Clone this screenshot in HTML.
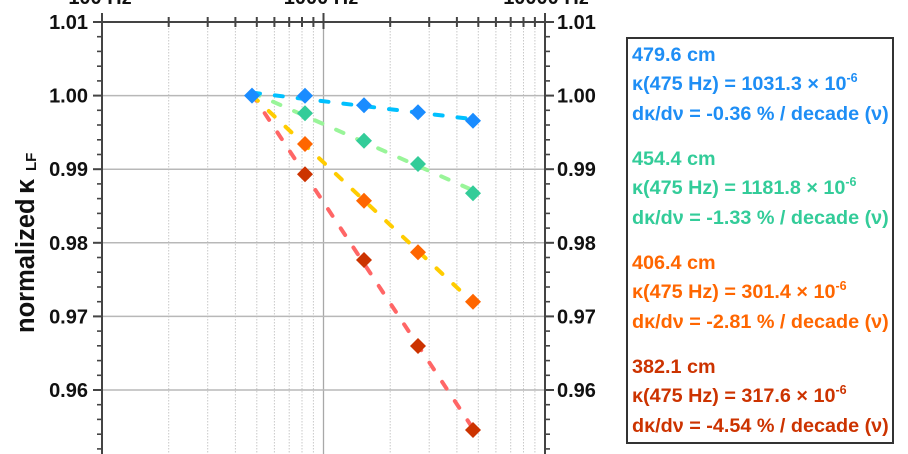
<!DOCTYPE html>
<html>
<head>
<meta charset="utf-8">
<style>
html,body{margin:0;padding:0;background:#fff;}
svg{display:block;}
text{font-family:"Liberation Sans",Arial,sans-serif;font-weight:bold;}
</style>
</head>
<body>
<svg width="908" height="454" viewBox="0 0 908 454" xmlns="http://www.w3.org/2000/svg">
<rect x="0" y="0" width="908" height="454" fill="#fff"/>

<!-- vertical minor gridlines -->
<g stroke="#c8c8c8" stroke-width="1" stroke-dasharray="1.5 1.5">
<line x1="168.7" y1="22" x2="168.7" y2="454"/>
<line x1="207.7" y1="22" x2="207.7" y2="454"/>
<line x1="235.4" y1="22" x2="235.4" y2="454"/>
<line x1="256.8" y1="22" x2="256.8" y2="454"/>
<line x1="274.4" y1="22" x2="274.4" y2="454"/>
<line x1="289.2" y1="22" x2="289.2" y2="454"/>
<line x1="302.0" y1="22" x2="302.0" y2="454"/>
<line x1="313.4" y1="22" x2="313.4" y2="454"/>
<line x1="390.2" y1="22" x2="390.2" y2="454"/>
<line x1="429.2" y1="22" x2="429.2" y2="454"/>
<line x1="456.9" y1="22" x2="456.9" y2="454"/>
<line x1="478.3" y1="22" x2="478.3" y2="454"/>
<line x1="495.9" y1="22" x2="495.9" y2="454"/>
<line x1="510.7" y1="22" x2="510.7" y2="454"/>
<line x1="523.5" y1="22" x2="523.5" y2="454"/>
<line x1="534.9" y1="22" x2="534.9" y2="454"/>
</g>
<line x1="323.5" y1="22" x2="323.5" y2="454" stroke="#a8a8a8" stroke-width="1.3"/>

<!-- horizontal gridlines -->
<g stroke="#b8b8b8" stroke-width="1.5">
<line x1="102" y1="95.6" x2="545" y2="95.6"/>
<line x1="102" y1="169.2" x2="545" y2="169.2"/>
<line x1="102" y1="242.8" x2="545" y2="242.8"/>
<line x1="102" y1="316.4" x2="545" y2="316.4"/>
<line x1="102" y1="390" x2="545" y2="390"/>
</g>

<!-- axes -->
<g stroke="#444" stroke-width="2" fill="none">
<line x1="101" y1="22" x2="546" y2="22"/>
<line x1="102" y1="13" x2="102" y2="454"/>
<line x1="545" y1="13" x2="545" y2="454"/>
<line x1="323.5" y1="13" x2="323.5" y2="29"/>
<line x1="168.7" y1="17" x2="168.7" y2="27"/>
<line x1="207.7" y1="17" x2="207.7" y2="27"/>
<line x1="235.4" y1="17" x2="235.4" y2="27"/>
<line x1="256.8" y1="17" x2="256.8" y2="27"/>
<line x1="274.4" y1="17" x2="274.4" y2="27"/>
<line x1="289.2" y1="17" x2="289.2" y2="27"/>
<line x1="302.0" y1="17" x2="302.0" y2="27"/>
<line x1="313.4" y1="17" x2="313.4" y2="27"/>
<line x1="390.2" y1="17" x2="390.2" y2="27"/>
<line x1="429.2" y1="17" x2="429.2" y2="27"/>
<line x1="456.9" y1="17" x2="456.9" y2="27"/>
<line x1="478.3" y1="17" x2="478.3" y2="27"/>
<line x1="495.9" y1="17" x2="495.9" y2="27"/>
<line x1="510.7" y1="17" x2="510.7" y2="27"/>
<line x1="523.5" y1="17" x2="523.5" y2="27"/>
<line x1="534.9" y1="17" x2="534.9" y2="27"/>
<line x1="93" y1="22" x2="102" y2="22"/>
<line x1="93" y1="95.6" x2="102" y2="95.6"/>
<line x1="93" y1="169.2" x2="102" y2="169.2"/>
<line x1="93" y1="242.8" x2="102" y2="242.8"/>
<line x1="93" y1="316.4" x2="102" y2="316.4"/>
<line x1="93" y1="390" x2="102" y2="390"/>
<line x1="545" y1="22" x2="554" y2="22"/>
<line x1="545" y1="95.6" x2="554" y2="95.6"/>
<line x1="545" y1="169.2" x2="554" y2="169.2"/>
<line x1="545" y1="242.8" x2="554" y2="242.8"/>
<line x1="545" y1="316.4" x2="554" y2="316.4"/>
<line x1="545" y1="390" x2="554" y2="390"/>
</g>
<g stroke="#444" stroke-width="1.6">
<line x1="97" y1="36.7" x2="102" y2="36.7"/><line x1="97" y1="51.4" x2="102" y2="51.4"/><line x1="97" y1="66.2" x2="102" y2="66.2"/><line x1="97" y1="80.9" x2="102" y2="80.9"/>
<line x1="97" y1="110.3" x2="102" y2="110.3"/><line x1="97" y1="125.0" x2="102" y2="125.0"/><line x1="97" y1="139.8" x2="102" y2="139.8"/><line x1="97" y1="154.5" x2="102" y2="154.5"/>
<line x1="97" y1="183.9" x2="102" y2="183.9"/><line x1="97" y1="198.6" x2="102" y2="198.6"/><line x1="97" y1="213.4" x2="102" y2="213.4"/><line x1="97" y1="228.1" x2="102" y2="228.1"/>
<line x1="97" y1="257.5" x2="102" y2="257.5"/><line x1="97" y1="272.2" x2="102" y2="272.2"/><line x1="97" y1="287.0" x2="102" y2="287.0"/><line x1="97" y1="301.7" x2="102" y2="301.7"/>
<line x1="97" y1="331.1" x2="102" y2="331.1"/><line x1="97" y1="345.8" x2="102" y2="345.8"/><line x1="97" y1="360.6" x2="102" y2="360.6"/><line x1="97" y1="375.3" x2="102" y2="375.3"/>
<line x1="97" y1="404.7" x2="102" y2="404.7"/><line x1="97" y1="419.4" x2="102" y2="419.4"/><line x1="97" y1="434.2" x2="102" y2="434.2"/><line x1="97" y1="448.9" x2="102" y2="448.9"/>
<line x1="545" y1="36.7" x2="550" y2="36.7"/><line x1="545" y1="51.4" x2="550" y2="51.4"/><line x1="545" y1="66.2" x2="550" y2="66.2"/><line x1="545" y1="80.9" x2="550" y2="80.9"/>
<line x1="545" y1="110.3" x2="550" y2="110.3"/><line x1="545" y1="125.0" x2="550" y2="125.0"/><line x1="545" y1="139.8" x2="550" y2="139.8"/><line x1="545" y1="154.5" x2="550" y2="154.5"/>
<line x1="545" y1="183.9" x2="550" y2="183.9"/><line x1="545" y1="198.6" x2="550" y2="198.6"/><line x1="545" y1="213.4" x2="550" y2="213.4"/><line x1="545" y1="228.1" x2="550" y2="228.1"/>
<line x1="545" y1="257.5" x2="550" y2="257.5"/><line x1="545" y1="272.2" x2="550" y2="272.2"/><line x1="545" y1="287.0" x2="550" y2="287.0"/><line x1="545" y1="301.7" x2="550" y2="301.7"/>
<line x1="545" y1="331.1" x2="550" y2="331.1"/><line x1="545" y1="345.8" x2="550" y2="345.8"/><line x1="545" y1="360.6" x2="550" y2="360.6"/><line x1="545" y1="375.3" x2="550" y2="375.3"/>
<line x1="545" y1="404.7" x2="550" y2="404.7"/><line x1="545" y1="419.4" x2="550" y2="419.4"/><line x1="545" y1="434.2" x2="550" y2="434.2"/><line x1="545" y1="448.9" x2="550" y2="448.9"/>
</g>

<!-- tick labels -->
<g font-size="20" fill="#111" text-anchor="end">
<text x="88" y="29">1.01</text>
<text x="88" y="102.6">1.00</text>
<text x="88" y="176.2">0.99</text>
<text x="88" y="249.8">0.98</text>
<text x="88" y="323.4">0.97</text>
<text x="88" y="397">0.96</text>
</g>
<g font-size="20" fill="#111">
<text x="557" y="29">1.01</text>
<text x="557" y="102.6">1.00</text>
<text x="557" y="176.2">0.99</text>
<text x="557" y="249.8">0.98</text>
<text x="557" y="323.4">0.97</text>
<text x="557" y="397">0.96</text>
</g>
<g font-size="20" fill="#111" text-anchor="middle">
<text x="100" y="4">100 Hz</text>
<text x="321" y="4">1000 Hz</text>
<text x="546" y="4">10000 Hz</text>
</g>

<!-- y label -->
<text transform="translate(34,333) rotate(-90)" font-size="25.5" fill="#111">normalized</text>
<text transform="translate(34,194) rotate(-90)" font-size="27" fill="#111">κ</text>
<text transform="translate(36,171) rotate(-90)" font-size="15" fill="#111">LF</text>

<!-- fit lines -->
<g stroke-width="4" stroke-linecap="round" stroke-dasharray="8 15" fill="none">
<line x1="252" y1="94.0" x2="473" y2="428.6" stroke="#ff6666"/>
<line x1="252" y1="95.3" x2="473" y2="302.6" stroke="#ffcc00"/>
<line x1="252" y1="92.4" x2="473" y2="190.4" stroke="#99f599"/>
<line x1="252" y1="92.6" x2="473" y2="119.2" stroke="#00c0ff"/>
</g>

<!-- markers -->
<g fill="#cc3300">
<path d="M305,166.3L313,174.3L305,182.3L297,174.3Z"/>
<path d="M364,252L372,260L364,268L356,260Z"/>
<path d="M418,338L426,346L418,354L410,346Z"/>
<path d="M473,422L481,430L473,438L465,430Z"/>
</g>
<g fill="#ff6600">
<path d="M305,136L313,144L305,152L297,144Z"/>
<path d="M364,192.7L372,200.7L364,208.7L356,200.7Z"/>
<path d="M418,244.3L426,252.3L418,260.3L410,252.3Z"/>
<path d="M473,293.7L481,301.7L473,309.7L465,301.7Z"/>
</g>
<g fill="#33cc99">
<path d="M305,105.3L313,113.3L305,121.3L297,113.3Z"/>
<path d="M364,132.7L372,140.7L364,148.7L356,140.7Z"/>
<path d="M418,156L426,164L418,172L410,164Z"/>
<path d="M473,185.3L481,193.3L473,201.3L465,193.3Z"/>
</g>
<g fill="#1a8cff">
<path d="M252,87.6L260,95.6L252,103.6L244,95.6Z"/>
<path d="M305,87.8L313,95.8L305,103.8L297,95.8Z"/>
<path d="M364,97.2L372,105.2L364,113.2L356,105.2Z"/>
<path d="M418,104.3L426,112.3L418,120.3L410,112.3Z"/>
<path d="M473,112.7L481,120.7L473,128.7L465,120.7Z"/>
</g>

<!-- legend -->
<rect x="627" y="38" width="266" height="405" fill="#fff" stroke="#333" stroke-width="2"/>
<g font-size="19.8">
<g fill="#1e8ef5">
<text x="632" y="61">479.6 cm</text>
<text x="632" y="90">κ(475 Hz) = 1031.3 × 10<tspan font-size="12.5" dy="-8">-6</tspan></text>
<text x="632" y="120">dκ/dν = -0.36 % / decade (ν)</text>
</g>
<g fill="#33cc99">
<text x="632" y="165">454.4 cm</text>
<text x="632" y="194">κ(475 Hz) = 1181.8 × 10<tspan font-size="12.5" dy="-8">-6</tspan></text>
<text x="632" y="224">dκ/dν = -1.33 % / decade (ν)</text>
</g>
<g fill="#ff6600">
<text x="632" y="269">406.4 cm</text>
<text x="632" y="298">κ(475 Hz) = 301.4 × 10<tspan font-size="12.5" dy="-8">-6</tspan></text>
<text x="632" y="328">dκ/dν = -2.81 % / decade (ν)</text>
</g>
<g fill="#cc3300">
<text x="632" y="373">382.1 cm</text>
<text x="632" y="402">κ(475 Hz) = 317.6 × 10<tspan font-size="12.5" dy="-8">-6</tspan></text>
<text x="632" y="432">dκ/dν = -4.54 % / decade (ν)</text>
</g>
</g>
</svg>
</body>
</html>
